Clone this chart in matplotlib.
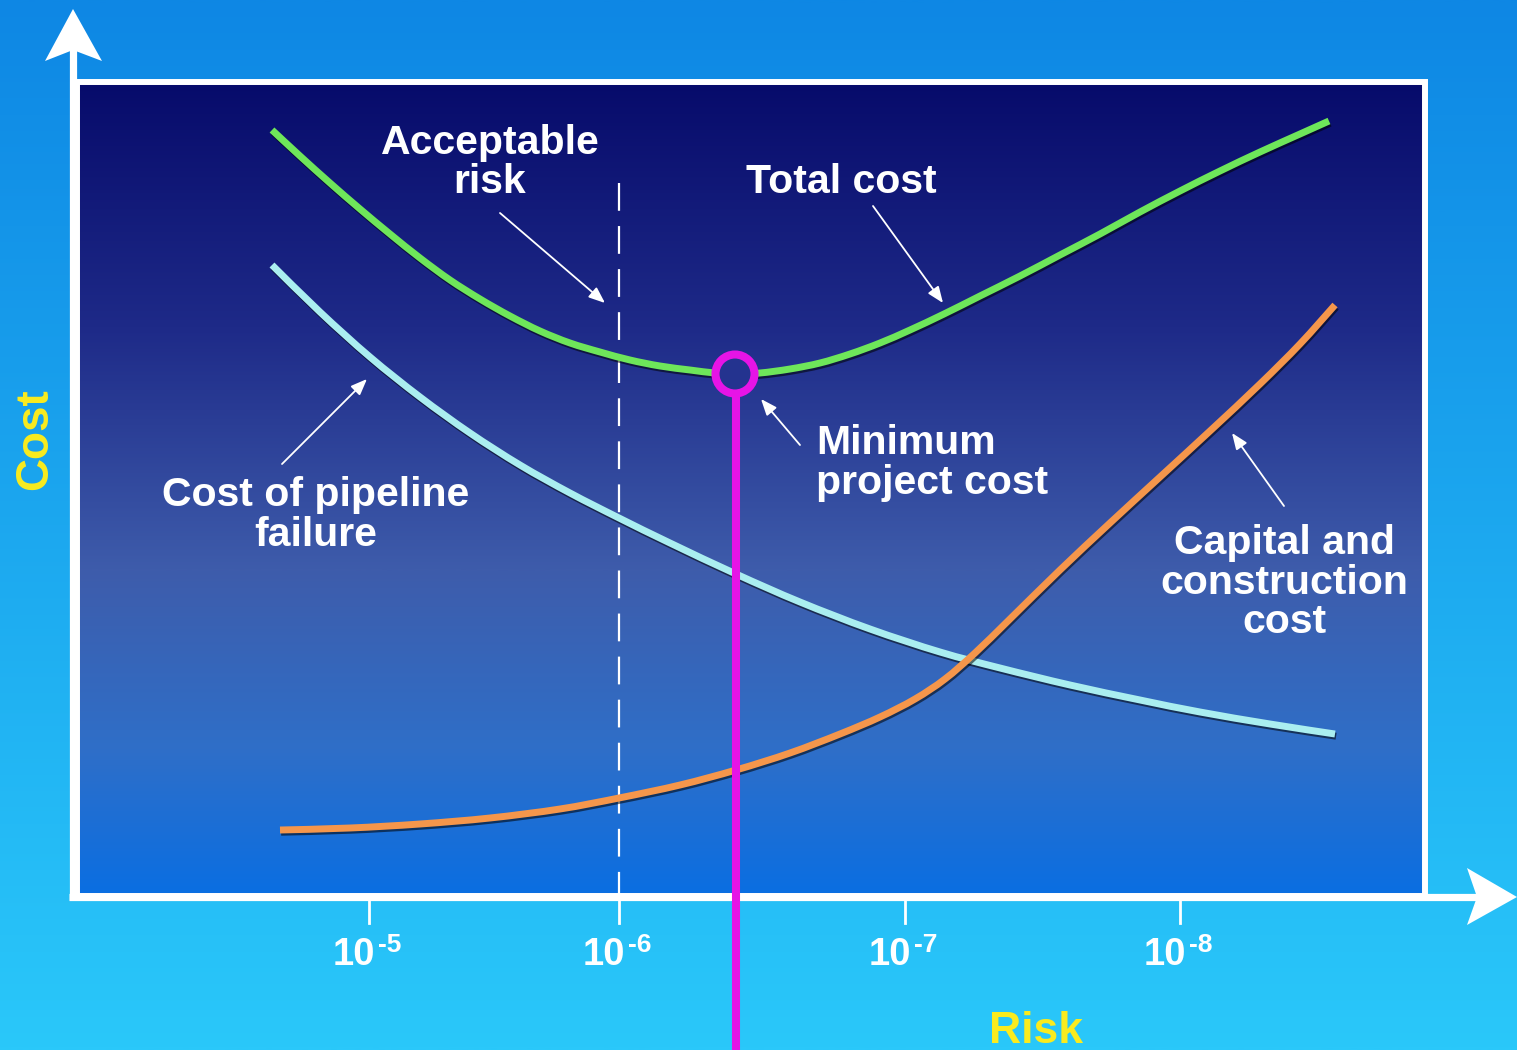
import numpy as np
import matplotlib
matplotlib.use('Agg')
import matplotlib.pyplot as plt
from matplotlib.colors import LinearSegmentedColormap
from matplotlib.patches import Polygon, Circle, Rectangle, PathPatch
from matplotlib.path import Path
import matplotlib.patheffects as pe

plt.rcParams['font.family'] = 'Liberation Sans'
plt.rcParams['font.weight'] = 'bold'
plt.rcParams['lines.scale_dashes'] = False

########################################################################
# canvas is laid out in pixel units, y grows downwards
W, H = 1517, 1050
panel_l, panel_t, panel_r, panel_b = 77, 82, 1425, 896

# total cost curve (risk position, cost position)
total_x = [272, 300, 330, 360, 390, 420, 450, 480, 510, 540, 570, 600, 630,
           660, 690, 715, 736, 760, 790, 820, 850, 880, 910, 944, 980, 1020,
           1060, 1100, 1140, 1180, 1220, 1260, 1300, 1329]
total_y = [130, 156, 183, 209, 234, 258, 280, 299, 316, 331, 343, 352, 360,
           366, 370, 373, 374, 373, 369, 363, 354, 343, 330, 314, 296, 276,
           255, 234, 212, 191, 171, 152, 134, 121]

# cost of pipeline failure
failure_x = [272, 320, 370, 420, 470, 520, 570, 619, 670, 736, 800, 870, 940,
             1000, 1070, 1140, 1200, 1270, 1335]
failure_y = [265, 312, 357, 397, 433, 465, 493, 518, 543, 574, 602, 629, 652,
             668, 685, 700, 712, 724, 734]

# capital and construction cost
capital_x = [280, 350, 420, 490, 560, 619, 680, 736, 790, 840, 880, 915, 945,
             975, 1010, 1060, 1110, 1160, 1210, 1260, 1300, 1335]
capital_y = [830, 828, 824, 818, 809, 798, 785, 770, 753, 734, 717, 699, 679,
             653, 619, 570, 523, 477, 431, 384, 344, 305]

tick_pos = [369, 619, 905, 1180]
tick_exp = ['-5', '-6', '-7', '-8']

acceptable_x = 619
optimum_x, optimum_y = 736, 374

########################################################################
# colours
outer_cmap = LinearSegmentedColormap.from_list('outer', ['#0e87e4', '#2ac8fa'])
inner_cmap = LinearSegmentedColormap.from_list(
    'inner', [(0.0, '#070b6b'), (0.3, '#1e2a88'), (0.6, '#3e5cab'),
              (0.82, '#2f6fc8'), (1.0, '#0a6ee2')])
green = '#6ee65a'
cyan = '#aaeef0'
orange = '#f5964b'
magenta = '#e614e6'
yellow = '#faeb1e'


def smooth_path(xs, ys):
    # bezier path through the points (catmull-rom tangents)
    p = np.column_stack([xs, ys]).astype(float)
    n = len(p)
    verts = [p[0]]
    codes = [Path.MOVETO]
    for i in range(n - 1):
        p0 = p[i - 1] if i > 0 else p[i]
        p1 = p[i]
        p2 = p[i + 1]
        p3 = p[i + 2] if i + 2 < n else p[i + 1]
        verts += [p1 + (p2 - p0) / 6, p2 - (p3 - p1) / 6, p2]
        codes += [Path.CURVE4] * 3
    return Path(verts, codes)


fig = plt.figure(figsize=(W / 100, H / 100), dpi=100)
ax = fig.add_axes([0, 0, 1, 1])

grad = np.linspace(0, 1, 512).reshape(-1, 1)
ax.imshow(grad, cmap=outer_cmap, extent=[0, W, H, 0], aspect='auto', zorder=0)
ax.imshow(grad, cmap=inner_cmap, extent=[panel_l, panel_r, panel_b, panel_t],
          aspect='auto', zorder=1)
ax.add_patch(Rectangle((panel_l, panel_t), panel_r - panel_l, panel_b - panel_t,
                       fill=False, ec='white', lw=4.3, zorder=2))

# axes with arrow heads
ax.plot([73, 73], [900, 45], color='white', lw=5.2, solid_capstyle='butt', zorder=3)
ax.plot([69, 1480], [897, 897], color='white', lw=5.2, solid_capstyle='butt', zorder=3)
ax.add_patch(Polygon([(73, 9), (102, 61), (73, 50), (45, 61)], closed=True,
                     fc='white', ec='none', zorder=3))
ax.add_patch(Polygon([(1517, 897), (1467, 925), (1477, 897), (1467, 868)], closed=True,
                     fc='white', ec='none', zorder=3))

for tp, ex in zip(tick_pos, tick_exp):
    ax.plot([tp, tp], [899, 923], color='white', lw=2, zorder=3)
    ax.text(tp + 6, 965, '10', color='white', fontsize=27.5, ha='right',
            va='baseline', zorder=4)
    ax.text(tp + 9, 952, ex, color='white', fontsize=19, ha='left',
            va='baseline', zorder=4)

# acceptable risk level
ax.plot([acceptable_x, acceptable_x], [183, 897], color='white', lw=1.6,
        dashes=(20, 11), zorder=3)

# cost curves
shadow = [pe.SimpleLineShadow(offset=(0.8, -1.6), shadow_color='black', alpha=0.55),
          pe.Normal()]
for xs, ys, c in [(failure_x, failure_y, cyan), (capital_x, capital_y, orange),
                  (total_x, total_y, green)]:
    ax.add_patch(PathPatch(smooth_path(xs, ys), fill=False, ec=c, lw=5,
                           capstyle='butt', joinstyle='round',
                           path_effects=shadow, zorder=5))

# minimum of total cost
ax.plot([optimum_x, optimum_x], [optimum_y + 20, H], color=magenta, lw=5.8,
        solid_capstyle='butt', zorder=6)
fill_c = inner_cmap((optimum_y - panel_t) / (panel_b - panel_t))
ax.add_patch(Circle((optimum_x - 1, optimum_y), 19.5, fc=fill_c, ec=magenta,
                    lw=5.8, zorder=7))

# labels (y is the baseline of the last line)
lab = dict(color='white', fontsize=29.5, ha='center', va='baseline',
           linespacing=1.05, zorder=8)
ax.text(490, 193, 'Acceptable\nrisk', **lab)
ax.text(841, 193, 'Total cost', **lab)
ax.text(316, 546, 'Cost of pipeline\nfailure', **lab)
ax.text(1284, 633, 'Capital and\nconstruction\ncost', **lab)
ax.text(816, 494, 'Minimum\nproject cost', **dict(lab, ha='left'))

ax.text(35, 439, 'Cost', color=yellow, fontsize=33, rotation=90, ha='center',
        va='center', zorder=8)
ax.text(1036, 1043, 'Risk', color=yellow, fontsize=32, ha='center',
        va='baseline', zorder=8)

# pointer arrows
pointers = [((500, 213), (605, 303)), ((873, 206), (943, 303)),
            ((800, 445), (761, 399)), ((282, 464), (367, 379)),
            ((1284, 506), (1232, 433))]
for tail, tip in pointers:
    ax.annotate('', xy=tip, xytext=tail, zorder=8,
                arrowprops=dict(arrowstyle='-|>,head_length=0.7,head_width=0.28',
                                mutation_scale=14, lw=1.3, color='white',
                                shrinkA=0, shrinkB=0))

ax.set_xlim(0, W)
ax.set_ylim(H, 0)
ax.axis('off')

fig.savefig('out.png', dpi=100)
